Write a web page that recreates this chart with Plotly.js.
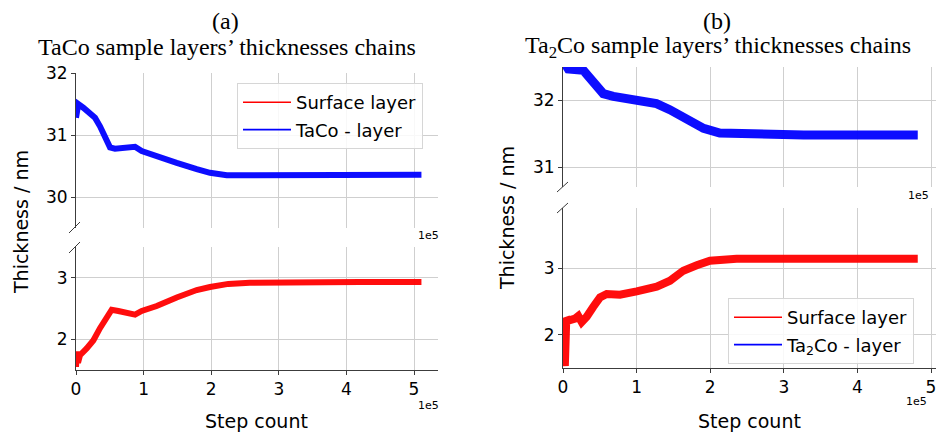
<!DOCTYPE html>
<html>
<head>
<meta charset="utf-8">
<script src="https://cdn.plot.ly/plotly-3.0.1.min.js"></script>
<style>html,body{margin:0;padding:0;background:#fff;}#chart{width:936px;height:434px;}</style>
</head>
<body>
<div id="chart"></div>
<script>
// ---- Data ----
// Panel (a): TaCo sample
var stepsA_surface = [0, 1500, 3000, 5900, 15800, 25600, 35500, 45400, 52800, 62600, 75000, 87300, 97200, 119400, 149000, 178600, 198200, 225300, 257000, 331000, 420000, 511000];
var thickA_surface = [1.55, 1.80, 1.62, 1.74, 1.85, 1.98, 2.18, 2.37, 2.48, 2.46, 2.44, 2.40, 2.46, 2.54, 2.68, 2.80, 2.85, 2.90, 2.92, 2.93, 2.93, 2.93];
var stepsA_layer = [0, 1200, 3400, 10800, 20700, 28100, 35500, 42900, 50300, 57700, 75000, 87300, 97200, 119400, 149000, 178600, 198200, 223000, 282000, 381000, 511000];
var thickA_layer = [31.28, 31.45, 31.50, 31.44, 31.34, 31.28, 31.14, 30.95, 30.80, 30.78, 30.79, 30.81, 30.74, 30.65, 30.55, 30.45, 30.39, 30.35, 30.35, 30.36, 30.36];

// Panel (b): Ta2Co sample
var stepsB_surface = [500, 2500, 4500, 7200, 16300, 20800, 25400, 32200, 41200, 50300, 59400, 77400, 100100, 127300, 145400, 163500, 181700, 199700, 236000, 300000, 400000, 482000];
var thickB_surface = [2.15, 1.53, 2.25, 2.21, 2.24, 2.28, 2.19, 2.27, 2.42, 2.56, 2.61, 2.60, 2.65, 2.72, 2.81, 2.96, 3.04, 3.11, 3.14, 3.14, 3.14, 3.14];
var stepsB_layer = [0, 7200, 27600, 36700, 45800, 54800, 68400, 100000, 127000, 145000, 168000, 191000, 213000, 259000, 327000, 417000, 482000];
var thickB_layer = [32.6, 32.47, 32.45, 32.32, 32.2, 32.1, 32.06, 32.01, 31.95, 31.86, 31.70, 31.58, 31.51, 31.49, 31.48, 31.48, 31.48];

var xTickVals = [0, 100000, 200000, 300000, 400000, 500000];
var xTickText = ['0', '1', '2', '3', '4', '5'];
var yTicksA_top = [30, 31, 32];
var yTicksA_bot = [2, 3];
var yTicksB_top = [31, 32];
var yTicksB_bot = [2, 3];

var titleA = 'TaCo sample layers’ thicknesses chains';
var titleB = 'Ta<sub>2</sub>Co sample layers’ thicknesses chains';
var namesA = ['Surface layer', 'TaCo - layer'];
var namesB = ['Surface layer', 'Ta<sub>2</sub>Co - layer'];

// ---- Helpers ----
var W = 936, H = 434;
function px(x) { return x / W; }
function py(y) { return 1 - y / H; }

var RED = '#ff0000', BLUE = '#0000ff';
var SANS = 'DejaVu Sans, sans-serif';
var SERIF = 'Liberation Serif, Times New Roman, serif';

var traces = [
  {x: stepsA_surface, y: thickA_surface, xaxis: 'x', yaxis: 'y', mode: 'lines', line: {color: RED, width: 6}, opacity: 0.95, showlegend: false, hoverinfo: 'skip'},
  {x: stepsA_layer, y: thickA_layer, xaxis: 'x2', yaxis: 'y2', mode: 'lines', line: {color: BLUE, width: 6}, opacity: 0.95, showlegend: false, hoverinfo: 'skip'},
  {x: stepsB_surface, y: thickB_surface, xaxis: 'x3', yaxis: 'y3', mode: 'lines', line: {color: RED, width: 8}, opacity: 0.95, showlegend: false, hoverinfo: 'skip'},
  {x: stepsB_layer, y: thickB_layer, xaxis: 'x4', yaxis: 'y4', mode: 'lines', line: {color: BLUE, width: 9}, opacity: 0.95, showlegend: false, hoverinfo: 'skip'},
  // legend entries
  {x: [null], y: [null], xaxis: 'x', yaxis: 'y', mode: 'lines', name: namesA[0], line: {color: RED, width: 1.6}, legend: 'legend', legendgroup: 'a1'},
  {x: [null], y: [null], xaxis: 'x', yaxis: 'y', mode: 'lines', name: namesA[1], line: {color: BLUE, width: 1.6}, legend: 'legend', legendgroup: 'a2'},
  {x: [null], y: [null], xaxis: 'x3', yaxis: 'y3', mode: 'lines', name: namesB[0], line: {color: RED, width: 1.6}, legend: 'legend2', legendgroup: 'b1'},
  {x: [null], y: [null], xaxis: 'x3', yaxis: 'y3', mode: 'lines', name: namesB[1], line: {color: BLUE, width: 1.6}, legend: 'legend2', legendgroup: 'b2'}
];

var GRID = '#cfcfcf', SPINE = '#3c3c3c';
function xax(dom, range, anchor, bottom) {
  return {
    domain: dom, range: range, anchor: anchor, automargin: false,
    tickvals: xTickVals, ticktext: xTickText, ticklabeloverflow: 'allow',
    showticklabels: bottom, ticks: bottom ? 'outside' : '', ticklen: 4, tickcolor: SPINE,
    showline: bottom, linecolor: SPINE, linewidth: 1,
    showgrid: true, gridcolor: GRID, gridwidth: 1, zeroline: false,
    tickfont: {family: SANS, size: 17, color: '#000'}
  };
}
function yax(dom, range, anchor, tv) {
  return {
    domain: dom, range: range, anchor: anchor, automargin: false,
    tickvals: tv, ticks: 'outside', ticklen: 4, tickcolor: SPINE,
    showline: true, linecolor: SPINE, linewidth: 1,
    showgrid: true, gridcolor: GRID, gridwidth: 1, zeroline: false,
    tickfont: {family: SANS, size: 17, color: '#000'}
  };
}

var xdomA = [px(76), px(438)];
var xdomB = [px(563), 1];
var xrangeA = [0, 535500];
var xrangeB = [0, 506800];

function ann(text, x, y, size, family, extra) {
  var a = {text: text, x: px(x), y: py(y), xref: 'paper', yref: 'paper', showarrow: false,
    xanchor: 'center', yanchor: 'middle', font: {family: family, size: size, color: '#000'}};
  if (extra) for (var k in extra) a[k] = extra[k];
  return a;
}

function brk(x1, y1, x2, y2) {
  return {type: 'line', xref: 'paper', yref: 'paper', x0: px(x1), y0: py(y1), x1: px(x2), y1: py(y2),
    line: {color: SPINE, width: 1}};
}

var layout = {
  width: W, height: H,
  margin: {l: 0, r: 0, t: 0, b: 0},
  paper_bgcolor: '#fff', plot_bgcolor: '#fff',
  xaxis: xax(xdomA, xrangeA, 'y', true),
  yaxis: yax([py(370), py(247)], [1.5, 3.5], 'x', yTicksA_bot),
  xaxis2: xax(xdomA, xrangeA, 'y2', false),
  yaxis2: yax([py(228), py(73)], [29.5, 32], 'x2', yTicksA_top),
  xaxis3: xax(xdomB, xrangeB, 'y3', true),
  yaxis3: yax([py(368), py(208)], [1.5, 3.9], 'x3', yTicksB_bot),
  xaxis4: xax(xdomB, xrangeB, 'y4', false),
  yaxis4: yax([py(187), py(67)], [30.7, 32.5], 'x4', yTicksB_top),
  legend: {x: px(237), y: py(83), xanchor: 'left', yanchor: 'top', bgcolor: 'rgba(255,255,255,0.85)',
    bordercolor: '#d6d6d6', borderwidth: 1, font: {family: SANS, size: 18, color: '#000'},
    traceorder: 'grouped', tracegroupgap: 1, itemwidth: 48},
  legend2: {x: px(728), y: py(298), xanchor: 'left', yanchor: 'top', bgcolor: 'rgba(255,255,255,0.85)',
    bordercolor: '#d6d6d6', borderwidth: 1, font: {family: SANS, size: 18, color: '#000'},
    traceorder: 'grouped', tracegroupgap: 1, itemwidth: 48},
  annotations: [
    ann('(a)', 225, 21, 24, SERIF),
    ann(titleA, 227, 47, 24, SERIF),
    ann('(b)', 717, 21, 24, SERIF),
    ann(titleB, 718, 47, 24, SERIF),
    ann('Thickness / nm', 21, 222, 19, SANS, {textangle: -90}),
    ann('Thickness / nm', 507, 218, 19, SANS, {textangle: -90}),
    ann('Step count', 256, 421, 19, SANS),
    ann('Step count', 749, 421, 19, SANS),
    ann('1e5', 428, 235, 11, SANS),
    ann('1e5', 428, 405, 11, SANS),
    ann('1e5', 918, 195, 11, SANS),
    ann('1e5', 916, 401, 11, SANS)
  ],
  shapes: [
    brk(69, 233, 80, 222), brk(69, 253, 80, 242),
    brk(557, 192, 568, 182), brk(557, 213, 568, 203)
  ]
};

Plotly.newPlot('chart', traces, layout, {staticPlot: true, displayModeBar: false});
</script>
</body>
</html>
